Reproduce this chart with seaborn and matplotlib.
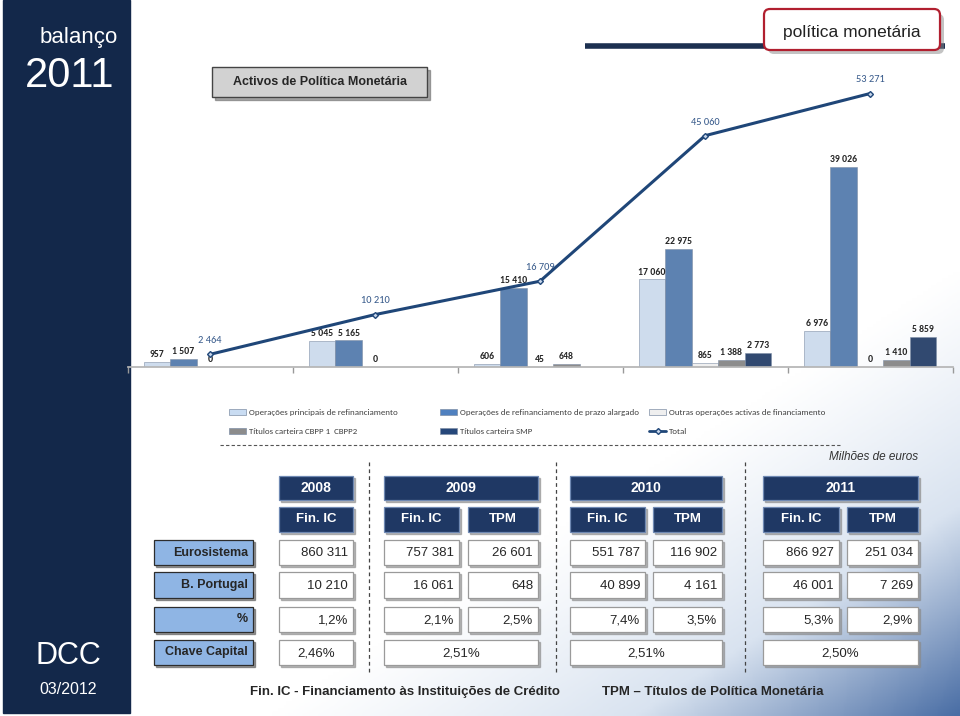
import numpy as np
import pandas as pd
import matplotlib
matplotlib.use("Agg")
import matplotlib.pyplot as plt
import seaborn as sns
from matplotlib import font_manager
from matplotlib.patches import Rectangle, FancyBboxPatch
from matplotlib.colors import LinearSegmentedColormap

# chart data (millions of euros)
years = ["2007", "2008", "2009", "2010", "2011"]
series = ["Operações principais de refinanciamento",
          "Operações de refinanciamento de prazo alargado",
          "Outras operações activas de financiamento",
          "Títulos carteira CBPP 1  CBPP2",
          "Títulos carteira SMP"]
opr = [957, 5045, 606, 17060, 6976]
orpa = [1507, 5165, 15410, 22975, 39026]
outras = [0, 0, 45, 865, 0]
cbpp = [np.nan, np.nan, 648, 1388, 1410]
smp = [np.nan, np.nan, np.nan, 2773, 5859]
total = [2464, 10210, 16709, 45060, 53271]
colors = ["#c9dcf2", "#4f80bf", "#efefef", "#8c8c8c", "#26477a"]

# table data
table_years = ["2008", "2009", "2010", "2011"]
table_cols = ["Fin. IC", "Fin. IC", "TPM", "Fin. IC", "TPM", "Fin. IC", "TPM"]
eurosistema = ["860 311", "757 381", "26 601", "551 787", "116 902", "866 927", "251 034"]
bportugal = ["10 210", "16 061", "648", "40 899", "4 161", "46 001", "7 269"]
percent = ["1,2%", "2,1%", "2,5%", "7,4%", "3,5%", "5,3%", "2,9%"]
chave_capital = ["2,46%", "2,51%", "2,51%", "2,50%"]
row_labels = ["Eurosistema", "B. Portugal", "%", "Chave Capital"]

sns.set_theme(style="white")
available = {f.name for f in font_manager.fontManager.ttflist}
narrow = "Liberation Sans Narrow" if "Liberation Sans Narrow" in available else "Liberation Sans"
calib = "Carlito" if "Carlito" in available else "Lato"
plt.rcParams["font.family"] = ["Liberation Sans", "DejaVu Sans"]


def fmt(v):
    return f"{int(v):,}".replace(",", " ")


fig = plt.figure(figsize=(9.6, 7.16), dpi=100)

# background layer in pixel coordinates
bg = fig.add_axes([0, 0, 1, 1], zorder=0)
bg.set_xlim(0, 960)
bg.set_ylim(716, 0)
bg.axis("off")

gx, gy = np.meshgrid(np.linspace(0, 1, 300), np.linspace(0, 1, 220))
grad = np.clip(1.2 * gx + 1.6 * gy - 1.8, 0, 1) ** 1.1
cmap = LinearSegmentedColormap.from_list("bgblue", ["#ffffff", "#d9e3f0", "#4a6ea5"])
bg.imshow(grad, extent=[130, 960, 716, 0], cmap=cmap, vmin=0, vmax=1, aspect="auto", zorder=0)

# sidebar
bg.add_patch(Rectangle((3, 0), 127, 713, color="#13284a", zorder=1))
bg.text(118, 38, "balanço", color="white", fontsize=16, ha="right", va="center", zorder=2)
bg.text(70, 76, "2011", color="white", fontsize=30, ha="center", va="center", zorder=2)
bg.text(68, 656, "DCC", color="white", fontsize=22, ha="center", va="center", zorder=2)
bg.text(68, 689, "03/2012", color="white", fontsize=11.5, ha="center", va="center", zorder=2)

# top decorations
bg.add_patch(Rectangle((215, 70), 215, 30, color="#555555", alpha=0.5, zorder=1))
bg.add_patch(Rectangle((212, 67), 215, 30, facecolor="#d2d2d2", edgecolor="#444444", lw=1, zorder=2))
bg.text(320, 82, "Activos de Política Monetária", fontsize=9, fontweight="bold", family=narrow,
        ha="center", va="center", zorder=3)
bg.plot([585, 945], [46, 46], color="#1c3050", lw=4, solid_capstyle="butt", zorder=2)
bg.add_patch(FancyBboxPatch((768, 14), 176, 40, boxstyle="round,pad=0,rounding_size=6",
                            facecolor="#888888", edgecolor="none", alpha=0.5, zorder=2))
bg.add_patch(FancyBboxPatch((764, 9), 176, 41, boxstyle="round,pad=0,rounding_size=6",
                            facecolor="white", edgecolor="#b11f2f", lw=1.6, zorder=3))
bg.text(852, 32, "política monetária", fontsize=12.5, color="#222222", ha="center", va="center", zorder=4)

# bar chart
df = pd.DataFrame({"ano": years * 5,
                   "serie": np.repeat(series, len(years)),
                   "valor": opr + orpa + outras + cbpp + smp}).dropna()

ax = fig.add_axes([127.5 / 960, (716 - 367) / 716, 825 / 960, 308 / 716], zorder=2)
ax.patch.set_alpha(0)
sns.barplot(data=df, x="ano", y="valor", hue="serie", hue_order=series, order=years,
            palette=colors, edgecolor="#7f8fa6", linewidth=0.4, legend=False, ax=ax)
for cont in ax.containers:
    ax.bar_label(cont, labels=[fmt(v) for v in cont.datavalues], padding=2,
                 fontsize=7, fontweight="bold", family=calib, color="#262626")

xpos = np.arange(len(years))
ax.plot(xpos, total, color="#1f4678", lw=2.2, marker="D", markersize=3,
        markerfacecolor="#c6d5ea", markeredgecolor="#1f4678", zorder=5)
for x, v in zip(xpos, total):
    ax.annotate(fmt(v), (x, v), xytext=(0, 8), textcoords="offset points", ha="center",
                fontsize=7.5, family=calib, color="#36598a")

ax.set_xlim(-0.5, 4.5)
ax.set_ylim(0, 60000)
ax.set_xlabel("")
ax.set_ylabel("")
ax.set_yticks([])
ax.set_xticks([])
ax.set_xticks(np.arange(-0.5, 5, 1), minor=True)
ax.tick_params(axis="x", which="minor", length=4, color="#999999", direction="out", bottom=True)
for s in ["left", "right", "top"]:
    ax.spines[s].set_visible(False)
ax.spines["bottom"].set_color("#b5b5b5")

# legend
legend_items = [(229, 412, 0), (440, 412, 1), (649, 412, 2), (229, 431, 3), (440, 431, 4)]
for lx, ly, i in legend_items:
    bg.add_patch(Rectangle((lx, ly - 3), 17, 6, facecolor=colors[i], edgecolor="#7f8fa6", lw=0.5, zorder=2))
    bg.text(lx + 20, ly, series[i], fontsize=6.4, family=calib, color="#404040", va="center", zorder=2)
bg.plot([649, 666], [431, 431], color="#1f4678", lw=2, zorder=2)
bg.plot([657.5], [431], marker="D", markersize=3, color="#1f4678", markerfacecolor="#c6d5ea", zorder=3)
bg.text(669, 431, "Total", fontsize=6.4, family=calib, color="#404040", va="center", zorder=2)
bg.plot([220, 840], [445, 445], color="#555555", lw=0.8, ls=(0, (3, 2)), zorder=2)

# table
bg.text(918, 457, "Milhões de euros", fontsize=8.5, style="italic", color="#333333",
        ha="right", va="center", zorder=2)
year_spans = [(279, 353), (384, 538), (570, 722), (763, 918)]
col_spans = [(279, 353), (384, 459), (468, 538), (570, 645), (653, 722), (763, 839), (847, 918)]
row_y = [(540, 565), (572, 598), (607, 632), (640, 665)]


def box(x0, x1, y0, y1, face, edge, shadow="#8a8a8a"):
    bg.add_patch(Rectangle((x0 + 2, y0 + 2), x1 - x0, y1 - y0, color=shadow, alpha=0.6, zorder=2))
    bg.add_patch(Rectangle((x0, y0), x1 - x0, y1 - y0, facecolor=face, edgecolor=edge, lw=0.9, zorder=3))


for (x0, x1), yr in zip(year_spans, table_years):
    box(x0, x1, 476, 500, "#1f3864", "#6f89b3")
    bg.text((x0 + x1) / 2, 488, yr, color="white", fontsize=10, fontweight="bold", family=narrow,
            ha="center", va="center", zorder=4)
for (x0, x1), c in zip(col_spans, table_cols):
    box(x0, x1, 507, 532, "#1f3864", "#6f89b3")
    bg.text((x0 + x1) / 2, 519, c, color="white", fontsize=9.5, fontweight="bold", family=narrow,
            ha="center", va="center", zorder=4)

for (y0, y1), lab in zip(row_y, row_labels):
    box(154, 253, y0, y1, "#8fb5e4", "#2d2d2d", shadow="#555555")
    bg.text(248, (y0 + y1) / 2, lab, fontsize=9, fontweight="bold", family=narrow,
            ha="right", va="center", zorder=4)

for (y0, y1), vals in zip(row_y[:3], [eurosistema, bportugal, percent]):
    for (x0, x1), v in zip(col_spans, vals):
        box(x0, x1, y0, y1, "white", "#9a9a9a")
        bg.text(x1 - 5, (y0 + y1) / 2 + 1, v, fontsize=9.5, family=narrow,
                ha="right", va="center", zorder=4)
y0, y1 = row_y[3]
for (x0, x1), v in zip(year_spans, chave_capital):
    box(x0, x1, y0, y1, "white", "#9a9a9a")
    bg.text((x0 + x1) / 2, (y0 + y1) / 2 + 1, v, fontsize=9.5, family=narrow,
            ha="center", va="center", zorder=4)

for sx in [369, 556, 745]:
    bg.plot([sx, sx], [462, 675], color="#444444", lw=0.9, ls=(0, (3, 2.5)), zorder=2)

bg.text(405, 692, "Fin. IC - Financiamento às Instituições de Crédito", fontsize=9.5,
        fontweight="bold", family=narrow, ha="center", va="center", zorder=4)
bg.text(713, 692, "TPM – Títulos de Política Monetária", fontsize=9.5,
        fontweight="bold", family=narrow, ha="center", va="center", zorder=4)

fig.savefig("out.png", dpi=100)
